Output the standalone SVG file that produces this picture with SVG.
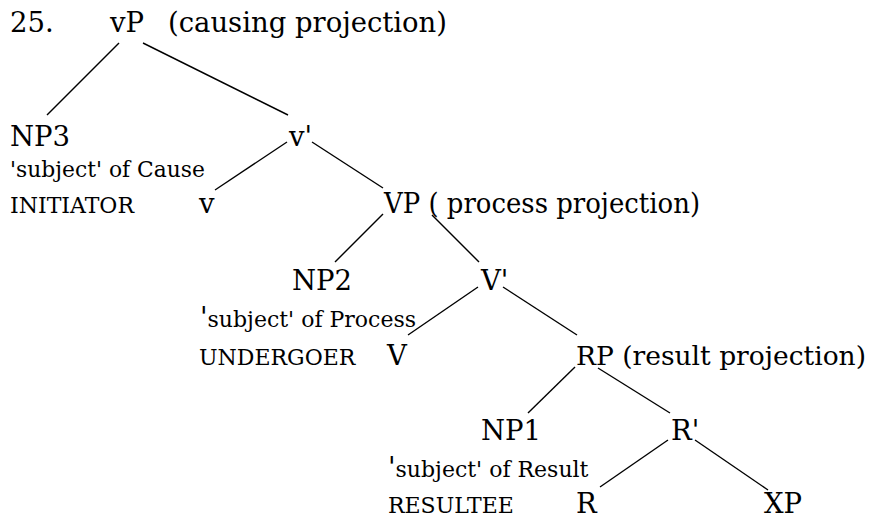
<svg xmlns="http://www.w3.org/2000/svg" width="873" height="519" viewBox="0 0 873 519">
<style>
.b{font-family:"DejaVu Serif","Liberation Serif",serif;font-size:27.5px;fill:#000}
.s{font-family:"DejaVu Serif","Liberation Serif",serif;font-size:22px;fill:#000}
.e{stroke:#000;stroke-width:1.4;fill:none}
</style>
<rect width="873" height="519" fill="#fff"/>
<text id="num" class="b" x="10" y="32">25.</text>
<g id="connectors">
<line class="e" x1="119" y1="43" x2="47" y2="115"/>
<line class="e" x1="143" y1="43" x2="288" y2="115"/>
<line class="e" x1="287" y1="142" x2="215" y2="190"/>
<line class="e" x1="312" y1="142" x2="383" y2="188"/>
<line class="e" x1="383" y1="214" x2="335" y2="262"/>
<line class="e" x1="432" y1="215" x2="479" y2="262"/>
<line class="e" x1="478" y1="287" x2="408" y2="335"/>
<line class="e" x1="503" y1="287" x2="577" y2="335"/>
<line class="e" x1="575" y1="367" x2="528" y2="413"/>
<line class="e" x1="598" y1="368" x2="670" y2="413"/>
<line class="e" x1="668" y1="440" x2="600" y2="487"/>
<line class="e" x1="695" y1="440" x2="768" y2="490"/>
</g>
<g id="vP"><text class="b" x="110" y="32">vP</text><text class="b" x="168" y="32" textLength="279" lengthAdjust="spacingAndGlyphs">(causing projection)</text></g>
<g id="NP3"><text class="b" x="10" y="146">NP3</text><text class="s" x="10" y="177" textLength="195" lengthAdjust="spacingAndGlyphs">'subject' of Cause</text><text class="s" x="10" y="213">INITIATOR</text></g>
<g id="vbar"><text class="b" x="289" y="146">v'</text></g>
<g id="v"><text class="b" x="199" y="213">v</text></g>
<g id="VP"><text class="b" x="384" y="213" textLength="316" lengthAdjust="spacingAndGlyphs">VP ( process projection)</text></g>
<g id="NP2"><text class="b" x="292" y="290">NP2</text><text class="s" x="200" y="327"><tspan style="font-size:27.5px">'</tspan>subject' of Process</text><text class="s" x="199" y="365">UNDERGOER</text></g>
<g id="Vbar"><text class="b" x="481" y="290">V'</text></g>
<g id="V"><text class="b" x="387" y="365">V</text></g>
<g id="RP"><text class="b" x="576" y="365" style="font-size:26.8px" textLength="290" lengthAdjust="spacingAndGlyphs">RP (result projection)</text></g>
<g id="NP1"><text class="b" x="481" y="440">NP1</text><text class="s" x="388" y="477"><tspan style="font-size:27.5px">'</tspan>subject' of Result</text><text class="s" x="388" y="513">RESULTEE</text></g>
<g id="Rbar"><text class="b" x="671" y="440">R'</text></g>
<g id="R"><text class="b" x="576" y="513">R</text></g>
<g id="XP"><text class="b" x="764" y="513">XP</text></g>
</svg>
